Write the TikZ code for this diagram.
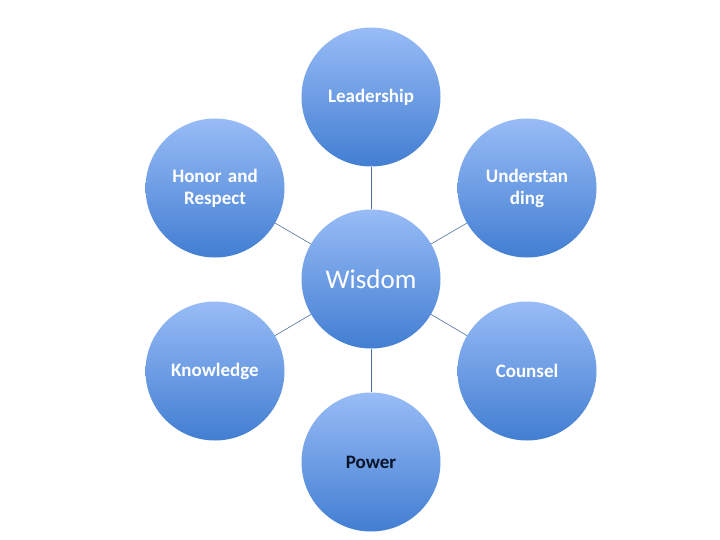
\documentclass[tikz,border=0pt]{standalone}
\usepackage{fontspec}
\setmainfont{Carlito}
\usepackage{xcolor}
\usepackage{tikz}
\usetikzlibrary{shadings}

\definecolor{bubtop}{RGB}{152,188,246}
\definecolor{bubbot}{RGB}{66,126,210}
\definecolor{linkblue}{RGB}{79,112,160}

\tikzset{
  bubble/.style={circle, minimum size=139pt, inner sep=2pt, align=center,
    top color=bubtop, bottom color=bubbot, draw=none,
    font=\bfseries\fontsize{19}{22}\selectfont, text=white, text width=110pt},
  link/.style={draw=linkblue, line width=0.6pt}
}

\begin{document}
\begin{tikzpicture}[x=1pt, y=-1pt]
    \useasboundingbox[fill=white] (0,0) rectangle (720,540);

    % Centre
    \node[bubble, font=\fontsize{27}{30}\selectfont] (wisdom) at (371,279) {Wisdom};

    % Ring of bubbles
    \node[bubble] (lead)  at (371,97)  {Leadership};
    \node[bubble] (under) at (527,188) {Understan\\ding};
    \node[bubble] (couns) at (527,371) {Counsel};
    \node[bubble, text={rgb,255:red,10;green,20;blue,40}] (power) at (371,462) {Power};
    \node[bubble] (know)  at (215,371) {Knowledge};
    \node[bubble] (honor) at (215,188) {Honor and\\Respect};

    % Links
    \foreach \n in {lead,under,couns,power,know,honor}
        \draw[link] (wisdom) -- (\n);
\end{tikzpicture}
\end{document}
